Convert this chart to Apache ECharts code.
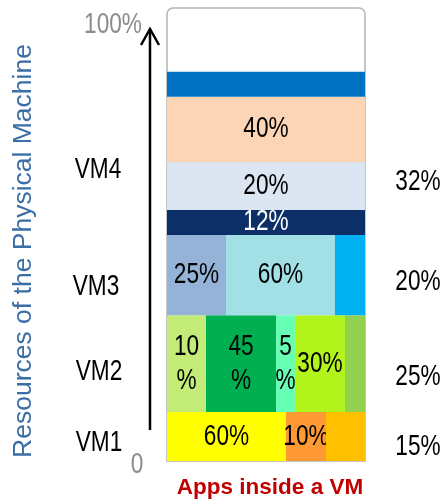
<!DOCTYPE html>
<html>
<head>
<meta charset="utf-8">
<script src="https://cdn.jsdelivr.net/npm/echarts@6/dist/echarts.min.js"></script>
<style>html,body{margin:0;padding:0;background:#fff}#c{width:444px;height:503px}</style>
</head>
<body>
<div id="c"></div>
<script>
// ---- data ----
const vmNames = ['VM1', 'VM2', 'VM3', 'VM4'];
const vmShares = ['15%', '25%', '20%', '32%'];
// vertical band edges (share of box height, bottom to top)
const rowEdges = [0, 10.8, 32.2, 49.9, 55.4, 66.0, 80.4, 85.9, 100];
// horizontal split of each VM row (share of box width)
const vm1Edges = [0, 60.1, 80.3, 100];
const vm1Labels = ['60%', '10%', ''];
const vm2Edges = [0, 19.7, 55.1, 64.6, 89.9, 100];
const vm2Labels = ['10\n%', '45\n%', '5\n%', '30%', ''];
const vm3Edges = [0, 29.8, 84.8, 100];
const vm3Labels = ['25%', '60%', ''];
const vm4Labels = ['12%', '20%', '40%', ''];
const axisTicks = ['0', '100%'];

// ---- styles ----
const vm1Colors = ['#FFFF00', '#FF9933', '#FFC000'];
const vm2Colors = ['#C3EB77', '#00B050', '#66FFB3', '#B3F41C', '#92D050'];
const vm3Colors = ['#95B3D7', '#A2E0E6', '#00B0F0'];
const vm4Colors = ['#0B2F66', '#DCE6F2', '#FBD5B5', '#0070C0'];
const vm4TextColors = ['#ffffff', '#000000', '#000000', '#000000'];

const segData = [];
const segText = [];
const segTextColor = [];
function addRow(edges, labels, colors, lo, hi) {
  for (let i = 0; i < labels.length; i++) {
    segData.push({ value: [edges[i], edges[i + 1], lo, hi], itemStyle: { color: colors[i] } });
    segText.push(labels[i]);
    segTextColor.push('#000000');
  }
}
addRow(vm1Edges, vm1Labels, vm1Colors, rowEdges[0], rowEdges[1]);
addRow(vm2Edges, vm2Labels, vm2Colors, rowEdges[1], rowEdges[2]);
addRow(vm3Edges, vm3Labels, vm3Colors, rowEdges[2], rowEdges[3]);
for (let i = 0; i < vm4Labels.length; i++) {
  segData.push({ value: [0, 100, rowEdges[3 + i], rowEdges[4 + i]], itemStyle: { color: vm4Colors[i] } });
  segText.push(vm4Labels[i]);
  segTextColor.push(vm4TextColors[i]);
}

const FONT = '29px "Liberation Sans", Arial, sans-serif';
const SX = 0.78;

function condensedText(text, x, y, color, extra) {
  return Object.assign({
    type: 'text', x: x, y: y, scaleX: SX,
    style: { text: text, fill: color, font: FONT, align: 'center', verticalAlign: 'middle', lineHeight: 34 }
  }, extra || {});
}

// layout of side labels (pixel positions)
const leftLabelX = [99, 99, 96, 98];
const leftLabelY = [443, 372, 287, 170];
const rightLabelY = [447, 377, 282, 182];

const graphics = [
  { type: 'rect', z: 0, shape: { x: 167, y: 8, width: 198, height: 453, r: [6, 6, 0, 0] },
    style: { fill: 'none', stroke: '#B4B4B4', lineWidth: 1.5 } },
  { type: 'line', z: 10, shape: { x1: 150, y1: 430, x2: 150, y2: 29 }, style: { stroke: '#000', lineWidth: 2.5 } },
  { type: 'polyline', z: 10, shape: { points: [[141, 45], [150, 29], [159, 45]] }, style: { stroke: '#000', lineWidth: 2.5, fill: 'none' } },
  { type: 'text', z: 10, x: 24, y: 251, rotation: Math.PI / 2,
    style: { text: 'Resources of the Physical Machine', fill: '#3A6EA6', font: '26.5px "Liberation Sans", Arial, sans-serif', align: 'center', verticalAlign: 'middle' } },
  { type: 'text', z: 10, x: 270, y: 488,
    style: { text: 'Apps inside a VM', fill: '#C00000', font: 'bold 22.5px "Liberation Sans", Arial, sans-serif', align: 'center', verticalAlign: 'middle' } },
  condensedText(axisTicks[1], 113, 25, '#8C8C8C', { z: 10 }),
  condensedText(axisTicks[0], 137, 465, '#8C8C8C', { z: 10 })
];
for (let i = 0; i < vmNames.length; i++) {
  graphics.push(condensedText(vmNames[i], leftLabelX[i], leftLabelY[i], '#000', { z: 10 }));
  graphics.push(condensedText(vmShares[i], 418, rightLabelY[i], '#000', { z: 10 }));
}

const chart = echarts.init(document.getElementById('c'), null, { renderer: 'canvas' });
chart.setOption({
  animation: false,
  backgroundColor: '#ffffff',
  grid: { left: 167, right: 79, top: 8, bottom: 42 },
  xAxis: { type: 'value', min: 0, max: 100, show: false },
  yAxis: { type: 'value', min: 0, max: 100, show: false },
  graphic: graphics,
  series: [{
    type: 'custom',
    z: 5,
    data: segData,
    renderItem: function (params, api) {
      const p0 = api.coord([api.value(0), api.value(2)]);
      const p1 = api.coord([api.value(1), api.value(3)]);
      const x = p0[0], y = p1[1], w = p1[0] - p0[0], h = p0[1] - p1[1];
      const children = [{ type: 'rect', shape: { x: x, y: y, width: w, height: h }, style: { fill: api.visual('color') } }];
      const t = segText[params.dataIndex];
      if (t) children.push(condensedText(t, x + w / 2, y + h / 2, segTextColor[params.dataIndex]));
      return { type: 'group', children: children };
    }
  }]
});
</script>
</body>
</html>
